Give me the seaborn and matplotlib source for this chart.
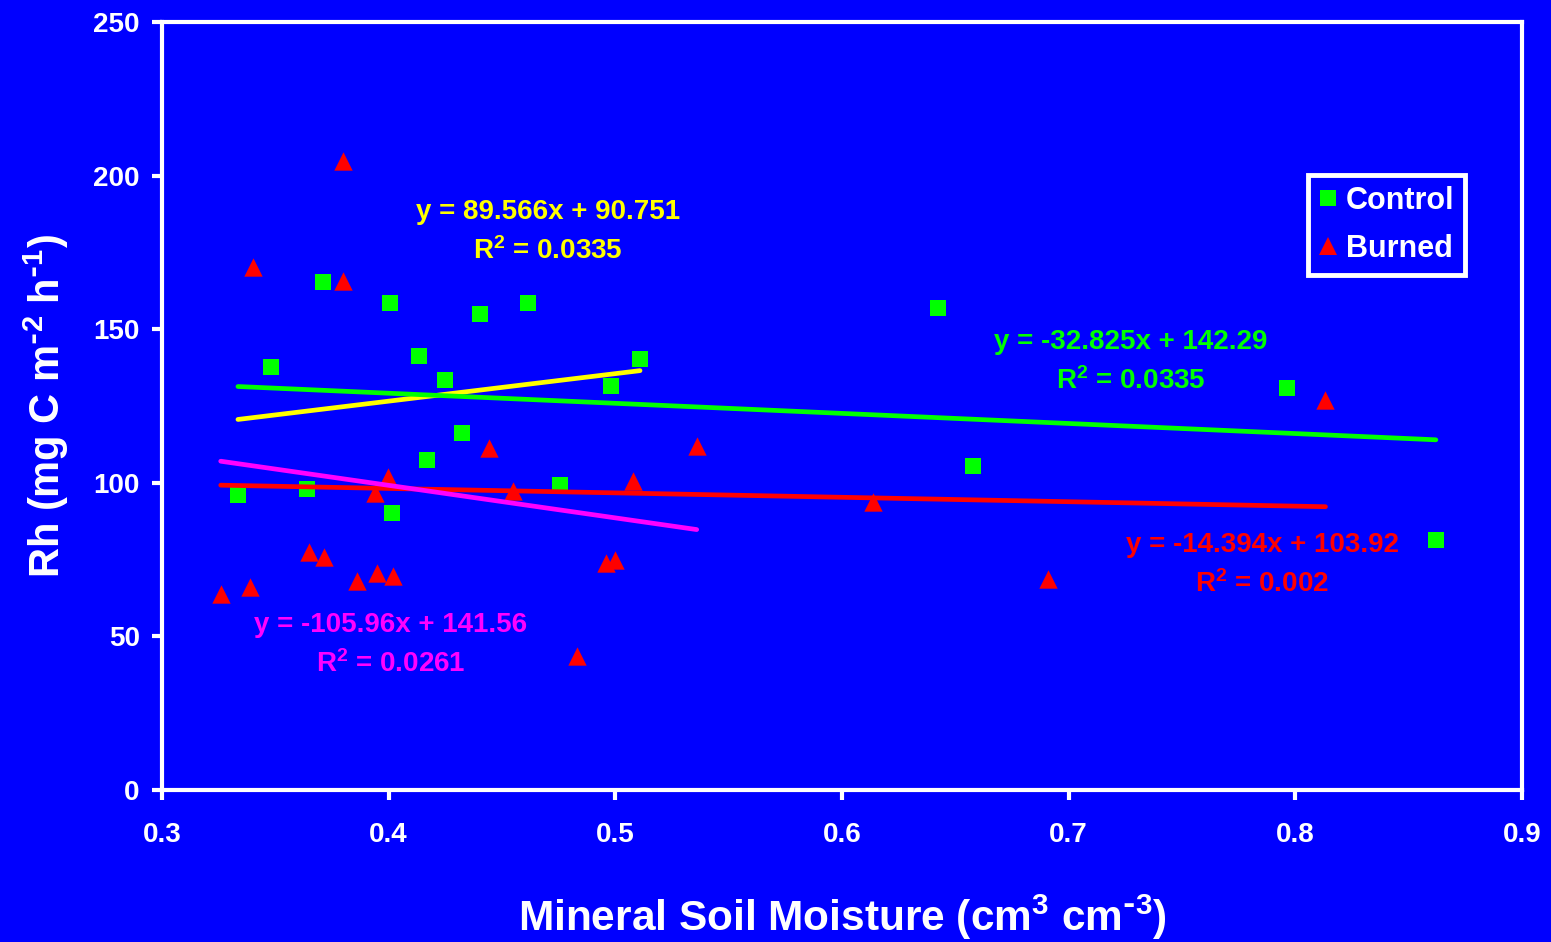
import matplotlib
matplotlib.use("Agg")
import matplotlib.pyplot as plt
from matplotlib.lines import Line2D
import numpy as np
import pandas as pd
import seaborn as sns

# Mineral soil moisture (cm3 cm-3) and heterotrophic respiration Rh (mg C m-2 h-1)
control_moisture = [0.3335, 0.348, 0.364, 0.371, 0.4006, 0.4015, 0.4134, 0.4169,
                    0.4249, 0.4323, 0.4403, 0.4615, 0.4756, 0.498, 0.5109,
                    0.6424, 0.6577, 0.7963, 0.862]
control_rh = [96.0, 137.7, 98.0, 165.4, 158.5, 90.2, 141.3, 107.4,
              133.5, 116.2, 155.0, 158.5, 99.3, 131.5, 140.3,
              156.9, 105.6, 130.9, 81.4]

burned_moisture = [0.3259, 0.3388, 0.34, 0.3647, 0.3715, 0.3797, 0.3797, 0.3859,
                   0.394, 0.395, 0.3997, 0.402, 0.4444, 0.455, 0.4832, 0.4961,
                   0.4997, 0.5078, 0.5359, 0.6136, 0.691, 0.8133]
burned_rh = [63.7, 66.2, 170.1, 77.5, 75.7, 204.9, 165.8, 67.9,
             96.8, 70.5, 101.8, 69.7, 111.2, 97.3, 43.6, 74.0,
             74.9, 100.7, 112.1, 93.9, 68.7, 127.0]

treatments = ["Control", "Burned"]

# Linear fits: slope, intercept, R², treatment and moisture cutoff of the subset
fit_names = ["control_dry", "control_all", "burned_all", "burned_dry"]
fit_slopes = [89.566, -32.825, -14.394, -105.96]
fit_intercepts = [90.751, 142.29, 103.92, 141.56]
fit_r2 = ["0.0335", "0.0335", "0.002", "0.0261"]
fit_treatment = ["Control", "Control", "Burned", "Burned"]
fit_cutoff = [0.55, 1.0, 1.0, 0.55]

x_ticks = [0.3, 0.4, 0.5, 0.6, 0.7, 0.8, 0.9]
y_ticks = [0, 50, 100, 150, 200, 250]

BG = "#0000FF"
marker_colors = {"Control": "#00FF00", "Burned": "#FF0000"}
fit_colors = ["#FFFF00", "#00FF00", "#FF0000", "#FF00FF"]
# equation label anchor (moisture, Rh) for each fit
label_x = [0.4703, 0.7275, 0.7853, 0.401]
label_y = [188.0, 145.8, 79.6, 53.6]

sns.set_theme(style="ticks")
plt.rcParams["font.family"] = ["Liberation Sans", "DejaVu Sans"]
plt.rcParams["font.weight"] = "bold"
plt.rcParams["mathtext.default"] = "regular"

df = pd.DataFrame({
    "moisture": control_moisture + burned_moisture,
    "rh": control_rh + burned_rh,
    "treatment": ["Control"] * len(control_moisture) + ["Burned"] * len(burned_moisture),
})

fig = plt.figure(figsize=(15.51, 9.42), dpi=100, facecolor=BG)
ax = fig.add_axes([162 / 1551, 1 - 790 / 942, 1360 / 1551, 768 / 942])
ax.set_facecolor(BG)

sns.scatterplot(data=df[df.treatment == "Control"], x="moisture", y="rh",
                color=marker_colors["Control"], marker="s", s=128,
                linewidth=0, ax=ax, legend=False, zorder=2)
sns.scatterplot(data=df[df.treatment == "Burned"], x="moisture", y="rh",
                color=marker_colors["Burned"], marker="^", s=175,
                linewidth=0, ax=ax, legend=False, zorder=2)

# fitted lines across the range of each data subset
for i in range(len(fit_names)):
    sub = df[(df.treatment == fit_treatment[i]) & (df.moisture < fit_cutoff[i])]
    xs = np.linspace(sub.moisture.min(), sub.moisture.max(), 20)
    ys = fit_slopes[i] * xs + fit_intercepts[i]
    sns.lineplot(x=xs, y=ys, color=fit_colors[i], linewidth=3.4, ax=ax,
                 zorder=3, solid_capstyle="round")
    sign = "+" if fit_intercepts[i] >= 0 else "-"
    eq = f"y = {fit_slopes[i]:g}x {sign} {abs(fit_intercepts[i]):g}"
    ax.text(label_x[i], label_y[i], eq, color=fit_colors[i], fontsize=20,
            fontweight="bold", ha="center", va="center", zorder=4)
    ax.text(label_x[i], label_y[i] - 12.7, f"R$^{{2}}$ = {fit_r2[i]}",
            color=fit_colors[i], fontsize=20, fontweight="bold",
            ha="center", va="center", zorder=4)

ax.set_xlim(0.3, 0.9)
ax.set_ylim(0, 250)
ax.set_xticks(x_ticks)
ax.set_yticks(y_ticks)
ax.set_xticklabels([f"{v:g}" for v in x_ticks])
ax.set_yticklabels([f"{v:g}" for v in y_ticks])

for side in ["left", "right", "top", "bottom"]:
    ax.spines[side].set_visible(True)
    ax.spines[side].set_color("white")
    ax.spines[side].set_linewidth(3)
ax.tick_params(axis="both", colors="white", direction="out", length=7, width=3,
               labelsize=20, labelcolor="white")
ax.tick_params(axis="x", pad=16)
ax.tick_params(axis="y", pad=9)
for lbl in ax.get_xticklabels() + ax.get_yticklabels():
    lbl.set_fontweight("bold")

ax.set_xlabel(r"Mineral Soil Moisture (cm$^{3}$ cm$^{\text{-}3}$)", color="white",
              fontsize=30.5, fontweight="bold", labelpad=32)
ax.set_ylabel(r"Rh (mg C m$^{\text{-}2}$ h$^{\text{-}1}$)", color="white",
              fontsize=30, fontweight="bold", labelpad=16)

handles = [
    Line2D([], [], linestyle="none", marker="s", markersize=11,
           markerfacecolor=marker_colors["Control"], markeredgewidth=0),
    Line2D([], [], linestyle="none", marker="^", markersize=13,
           markerfacecolor=marker_colors["Burned"], markeredgewidth=0),
]
leg = ax.legend(handles, treatments, loc="upper left",
                bbox_to_anchor=((1308 - 162) / 1360, (790 - 175) / 768),
                frameon=True, fancybox=False, framealpha=1,
                facecolor=BG, edgecolor="white", fontsize=22,
                handlelength=0.6, handletextpad=0.3, borderpad=0.35,
                labelspacing=0.6, borderaxespad=0)
leg.get_frame().set_linewidth(3.5)
for t in leg.get_texts():
    t.set_color("white")
    t.set_fontweight("bold")

fig.savefig("out.png", dpi=100, facecolor=BG)
